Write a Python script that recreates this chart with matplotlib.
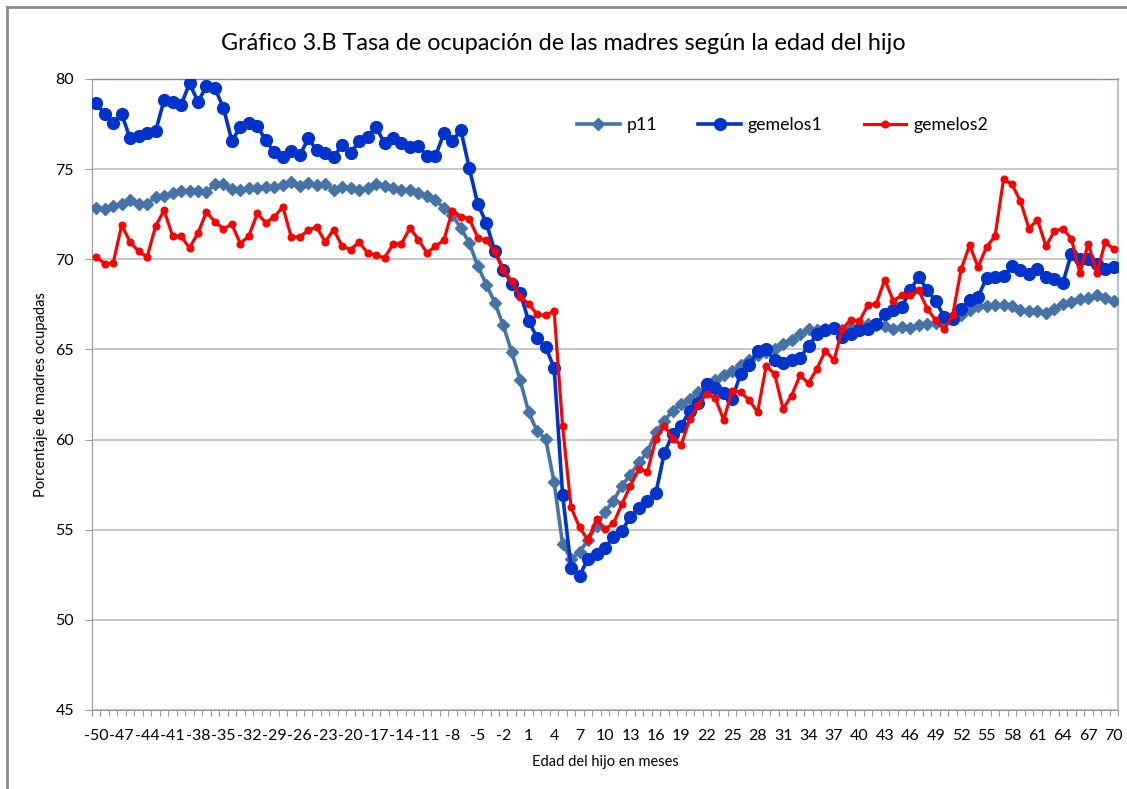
import numpy as np
import matplotlib
matplotlib.use("Agg")
from matplotlib import pyplot as plt
from matplotlib.lines import Line2D

plt.rcParams['font.family'] = ['Lato', 'DejaVu Sans']

# meses respecto al nacimiento del hijo
meses = list(range(-50, 71))

p11 = [72.85, 72.81, 72.94, 73.04, 73.31, 73.09, 73.09, 73.43, 73.52, 73.65,
       73.80, 73.80, 73.80, 73.74, 74.15, 74.17, 73.89, 73.83, 73.93, 73.98,
       74.02, 74.02, 74.11, 74.30, 74.06, 74.25, 74.11, 74.20, 73.83, 74.02,
       73.93, 73.83, 73.98, 74.15, 74.07, 73.93, 73.83, 73.83, 73.69, 73.50,
       73.28, 72.84, 72.45, 71.73, 70.90, 69.62, 68.60, 67.60, 66.33, 64.85,
       63.28, 61.52, 60.46, 60.04, 57.63, 54.20, 53.37, 53.74, 54.45, 55.20,
       56.00, 56.60, 57.45, 58.05, 58.74, 59.30, 60.41, 61.05, 61.61, 61.98,
       62.26, 62.63, 63.00, 63.28, 63.56, 63.83, 64.11, 64.39, 64.67, 64.85,
       65.04, 65.28, 65.54, 65.83, 66.11, 66.05, 66.15, 66.20, 66.10, 66.20,
       66.30, 66.39, 66.33, 66.28, 66.15, 66.26, 66.20, 66.35, 66.43, 66.45,
       66.61, 66.80, 66.89, 67.20, 67.39, 67.39, 67.44, 67.48, 67.39, 67.20,
       67.11, 67.11, 67.02, 67.26, 67.54, 67.63, 67.82, 67.85, 68.00, 67.85,
       67.68]

gemelos1 = [78.65, 78.05, 77.57, 78.05, 76.70, 76.83, 76.98, 77.10, 78.83, 78.70,
            78.55, 79.76, 78.74, 79.60, 79.48, 78.40, 76.56, 77.35, 77.57, 77.39,
            76.60, 75.93, 75.65, 75.98, 75.76, 76.70, 76.06, 75.87, 75.69, 76.33,
            75.87, 76.56, 76.80, 77.35, 76.43, 76.70, 76.46, 76.24, 76.28, 75.74,
            75.72, 76.98, 76.56, 77.17, 75.04, 73.06, 72.02, 70.45, 69.43, 68.65,
            68.13, 66.57, 65.65, 65.13, 63.98, 56.93, 52.90, 52.44, 53.40, 53.65,
            54.00, 54.60, 54.94, 55.72, 56.20, 56.60, 57.04, 59.26, 60.30, 60.78,
            61.61, 62.04, 63.09, 62.85, 62.59, 62.26, 63.65, 64.15, 64.89, 65.04,
            64.39, 64.25, 64.44, 64.54, 65.19, 65.83, 66.06, 66.18, 65.68, 65.83,
            66.09, 66.12, 66.41, 66.94, 67.18, 67.35, 68.28, 69.04, 68.28, 67.70,
            66.80, 66.68, 67.26, 67.72, 67.91, 68.98, 69.02, 69.06, 69.61, 69.39,
            69.17, 69.48, 69.02, 68.93, 68.70, 70.31, 70.04, 70.04, 69.76, 69.44,
            69.57]

gemelos2 = [70.13, 69.76, 69.80, 71.89, 70.96, 70.44, 70.13, 71.83, 72.72, 71.30,
            71.28, 70.63, 71.46, 72.63, 72.07, 71.70, 71.93, 70.87, 71.30, 72.54,
            72.04, 72.35, 72.91, 71.24, 71.24, 71.61, 71.80, 70.96, 71.65, 70.72,
            70.54, 70.96, 70.35, 70.22, 70.09, 70.83, 70.87, 71.74, 71.09, 70.35,
            70.72, 71.06, 72.70, 72.37, 72.25, 71.20, 71.05, 70.45, 69.43, 68.80,
            67.91, 67.54, 66.94, 66.89, 67.13, 60.74, 56.24, 55.13, 54.41, 55.59,
            55.04, 55.35, 56.43, 57.44, 58.37, 58.22, 60.04, 60.78, 60.04, 59.72,
            61.15, 61.94, 62.54, 62.30, 61.09, 62.72, 62.63, 62.20, 61.52, 64.07,
            63.65, 61.70, 62.44, 63.56, 63.13, 63.93, 64.94, 64.39, 66.15, 66.65,
            66.56, 67.46, 67.54, 68.87, 67.70, 68.00, 68.00, 68.28, 67.26, 66.61,
            66.11, 66.89, 69.44, 70.78, 69.57, 70.69, 71.28, 74.43, 74.15, 73.22,
            71.70, 72.20, 70.72, 71.56, 71.70, 71.15, 69.24, 70.87, 69.24, 70.96,
            70.56]

fig = plt.figure(figsize=(11.27, 7.89), dpi=100)
ax = fig.add_axes([92 / 1127, 1 - 710 / 789, (1118 - 92) / 1127, (710 - 79) / 789])

pos = np.arange(len(meses))
ax.plot(pos, p11, color='#4572A7', lw=2.6, marker='D', ms=6.5, label='p11', zorder=3)
ax.plot(pos, gemelos1, color='#0033CC', lw=2.6, marker='o', ms=8.5, label='gemelos1', zorder=4)
ax.plot(pos, gemelos2, color='#FF0000', lw=2.3, marker='o', ms=4.8, label='gemelos2', zorder=5)

ax.set_xlim(-0.5, len(meses) - 0.5)
ax.set_ylim(45, 80)
ax.set_yticks(range(45, 81, 5))
ax.set_xticks(pos[::3])
ax.set_xticklabels([str(m) for m in meses[::3]])
ax.set_xticks(np.arange(-0.5, len(meses), 1), minor=True)
ax.tick_params(axis='x', which='major', length=0, pad=14, labelsize=11.5)
ax.tick_params(axis='x', which='minor', length=4, color='#999999', width=0.8)
ax.tick_params(axis='y', length=5, color='#999999', labelsize=11.5, pad=8)
ax.grid(axis='y', color='#BEBEBE', lw=1.2)
ax.set_axisbelow(True)

for s in ['left', 'bottom']:
    ax.spines[s].set_color('#999999')
ax.spines['top'].set_color('#6F8FBF')
ax.spines['right'].set_color('#9DB7DD')
ax.spines['top'].set_linewidth(1.0)
ax.spines['right'].set_linewidth(1.2)

ax.set_xlabel('Edad del hijo en meses', fontsize=10.5, labelpad=8)
ax.set_ylabel('Porcentaje de madres ocupadas', fontsize=10.5, labelpad=5)
fig.text(0.5, 1 - 43 / 789, 'Gráfico 3.B Tasa de ocupación de las madres según la edad del hijo',
         ha='center', va='center', fontsize=16.8)

ax.legend(loc='center left', bbox_to_anchor=(0.457, 0.927), ncol=3, frameon=False,
          fontsize=12.8, handlelength=2.4, columnspacing=2.3, handletextpad=0.4)

# marco exterior del gráfico
fig.add_artist(Line2D([7 / 1127, 7 / 1127], [0, 1 - 7 / 789], color='#8C8C8C', lw=2))
fig.add_artist(Line2D([7 / 1127, 1], [1 - 7 / 789, 1 - 7 / 789], color='#8C8C8C', lw=2))

fig.savefig('out.png', dpi=100)
